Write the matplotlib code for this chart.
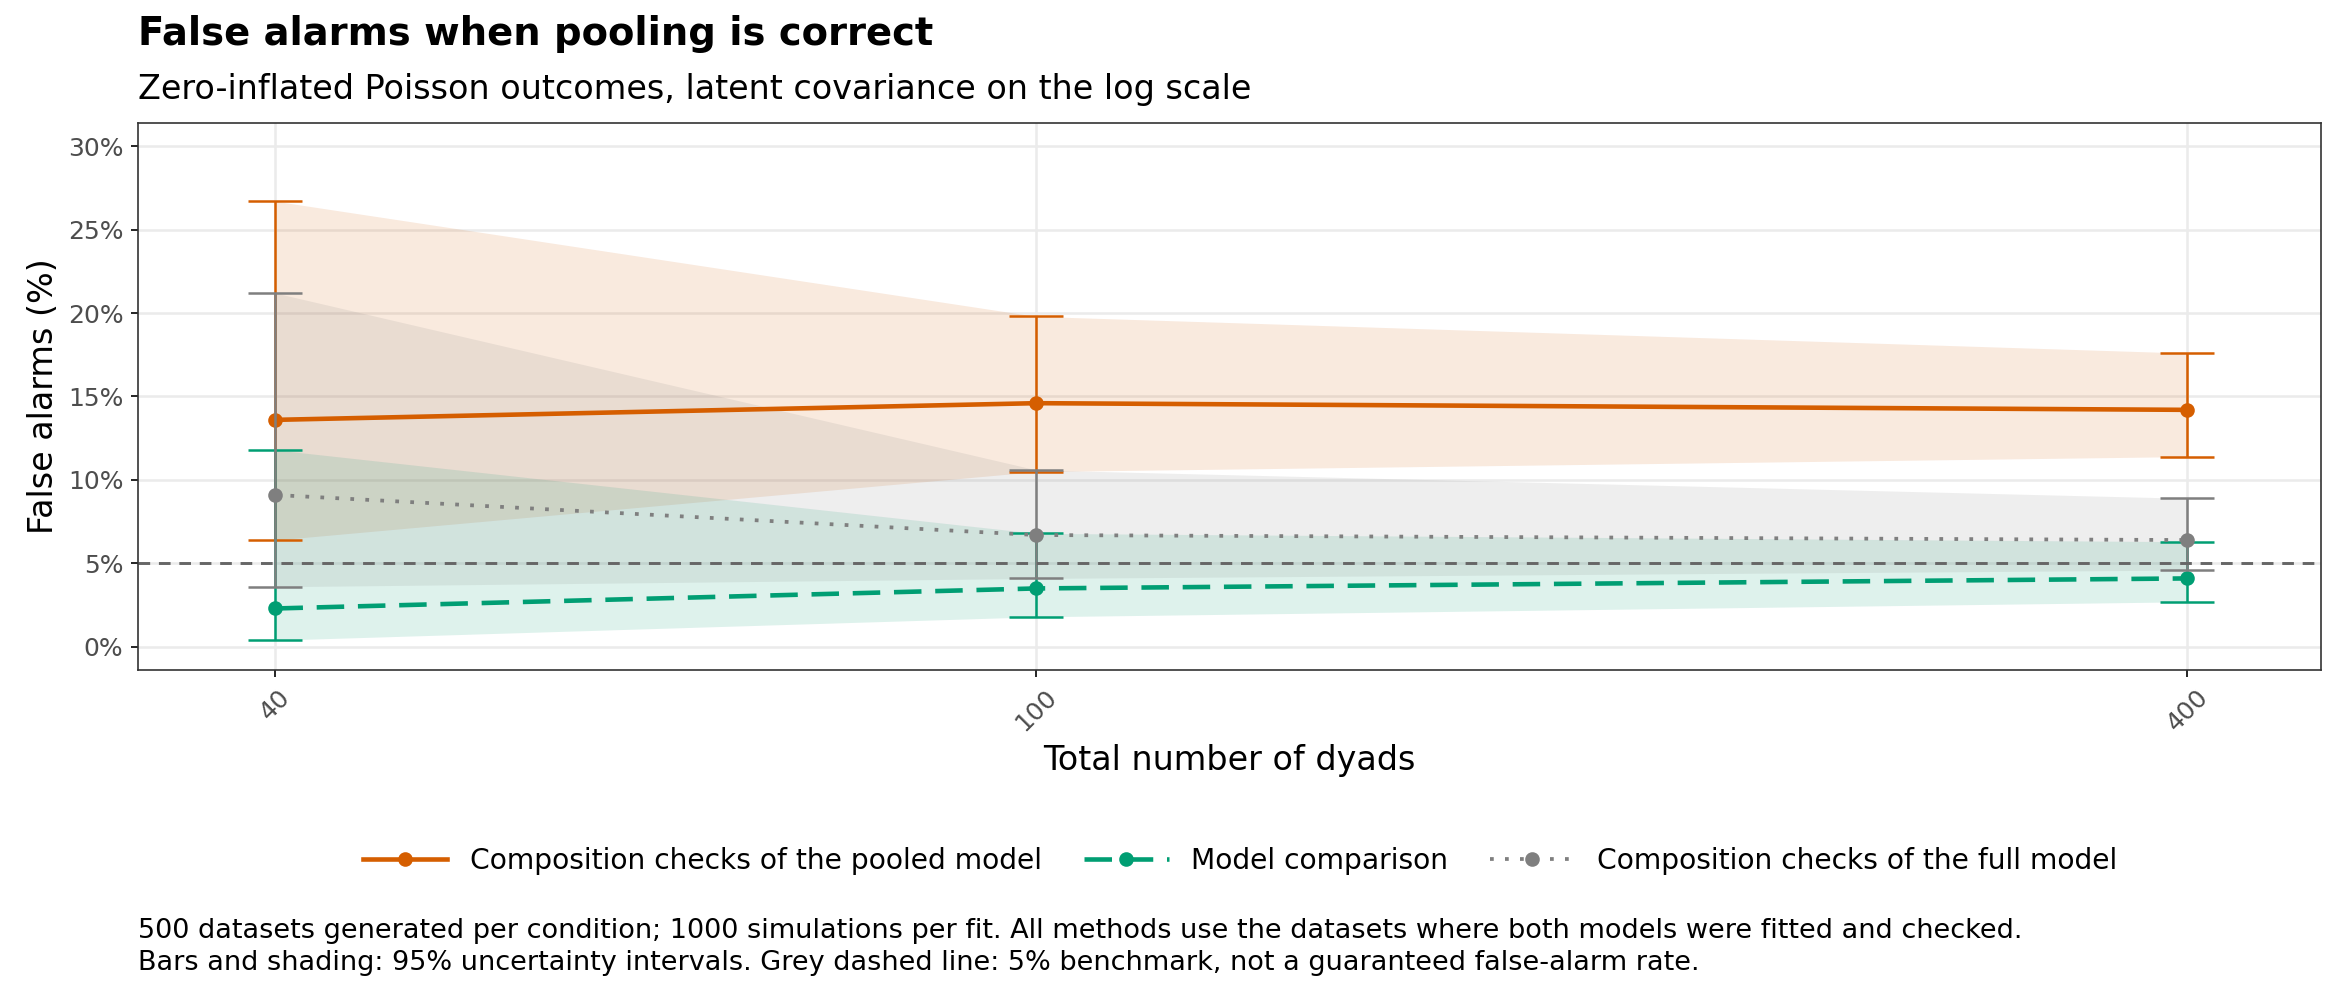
import numpy as np
import matplotlib.pyplot as plt
from matplotlib.ticker import FixedLocator, NullLocator

dyads = [40, 100, 400]
labels = ["Composition checks of the pooled model", "Model comparison",
          "Composition checks of the full model"]
est = [[13.6, 14.6, 14.2], [2.3, 3.5, 4.1], [9.1, 6.7, 6.4]]
lo = [[6.4, 10.5, 11.4], [0.4, 1.8, 2.7], [3.6, 4.1, 4.6]]
hi = [[26.7, 19.8, 17.6], [11.8, 6.8, 6.3], [21.2, 10.6, 8.9]]
colors = ["#D55E00", "#009E73", "#7F7F7F"]
styles = ["-", (0, (6, 3)), (0, (1, 3))]

fig = plt.figure(figsize=(15.6, 6.6), dpi=150)
ax = fig.add_axes([0.059, 0.323, 0.933, 0.553])
ax.set_xscale("log")
for i in range(3):
    c = colors[i]
    ax.fill_between(dyads, lo[i], hi[i], color=c, alpha=0.13, lw=0)
    ax.errorbar(dyads, est[i], yerr=[np.subtract(est[i], lo[i]), np.subtract(hi[i], est[i])],
                fmt="none", ecolor=c, elinewidth=1.2, capsize=13, capthick=1.2)
    ax.plot(dyads, est[i], color=c, ls=styles[i], lw=2.2 if i < 2 else 1.8,
            marker="o", ms=6, label=labels[i])
ax.axhline(5, color="#666666", ls=(0, (4, 3)), lw=1.4)
ax.set_xlim(33.9, 470)
ax.set_ylim(-1.4, 31.4)
ax.xaxis.set_major_locator(FixedLocator(dyads))
ax.xaxis.set_minor_locator(NullLocator())
ax.set_xticklabels([str(d) for d in dyads], rotation=45, fontsize=12, color="#4d4d4d")
ax.set_yticks(range(0, 31, 5))
ax.set_yticklabels([f"{v}%" for v in range(0, 31, 5)], fontsize=12, color="#4d4d4d")
ax.grid(True, color="#ebebeb", lw=1.2)
ax.set_axisbelow(True)
for s in ax.spines.values():
    s.set_color("#333333")
    s.set_linewidth(0.8)
ax.set_xlabel("Total number of dyads", fontsize=16)
ax.set_ylabel("False alarms (%)", fontsize=16)
fig.text(0.059, 0.955, "False alarms when pooling is correct", fontsize=18.5, fontweight="bold")
fig.text(0.059, 0.9, "Zero-inflated Poisson outcomes, latent covariance on the log scale", fontsize=16)
fig.legend(loc="center", bbox_to_anchor=(0.53, 0.13), ncol=3, frameon=False,
           fontsize=13.5, handlelength=3, columnspacing=1.5)
fig.text(0.059, 0.02, "500 datasets generated per condition; 1000 simulations per fit. All methods use the datasets where both models were fitted and checked.\n"
         "Bars and shading: 95% uncertainty intervals. Grey dashed line: 5% benchmark, not a guaranteed false-alarm rate.",
         fontsize=13, linespacing=1.3)
fig.savefig("out.png", dpi=150)
